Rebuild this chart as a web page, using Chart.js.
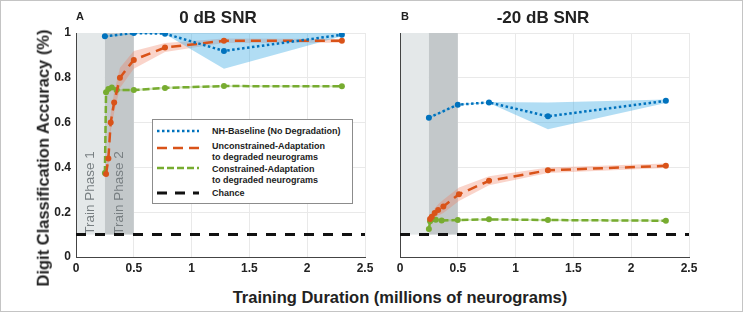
<!DOCTYPE html>
<html>
<head>
<meta charset="utf-8">
<script src="https://cdn.jsdelivr.net/npm/chart.js@4.4.0/dist/chart.umd.min.js"></script>
<style>
  body { margin: 0; background: #fff; }
  #fig { position: relative; width: 743px; height: 312px; font-family: "Liberation Sans", Arial, sans-serif; color: #222; overflow: hidden; }
  #frame { position: absolute; left: 0; top: 0; width: 743px; height: 312px; box-sizing: border-box; border: 1px solid #c4c4c4; pointer-events: none; }
  .pane { position: absolute; top: 0; }
  .t { position: absolute; font-weight: bold; white-space: nowrap; line-height: 1; }
  #legend { position: absolute; left: 152px; top: 119px; width: 201px; height: 85px; box-sizing: border-box; border: 1px solid #8c8c8c; background: #fff; }
  #legend svg { position: absolute; left: 0; top: 0; }
  .lg { position: absolute; left: 59px; font-size: 9px; font-weight: bold; line-height: 11px; white-space: nowrap; color: #222; }
</style>
</head>
<body>
<div id="fig">
  <canvas id="cA" class="pane" width="340" height="280" style="left:40px"></canvas>
  <canvas id="cB" class="pane" width="340" height="280" style="left:370px"></canvas>

  <div class="t" style="left:76px;top:11px;font-size:11px">A</div>
  <div class="t" style="left:401px;top:11px;font-size:11px">B</div>
  <div class="t" style="left:218px;top:9px;font-size:17px;transform:translateX(-50%)">0 dB SNR</div>
  <div class="t" style="left:543px;top:9px;font-size:17px;transform:translateX(-50%)">-20 dB SNR</div>
  <div class="t" style="left:43px;top:158px;font-size:16.5px;transform:translate(-50%,-50%) rotate(-90deg)">Digit Classification Accuracy (%)</div>
  <div class="t" style="left:400px;top:289px;font-size:16.5px;transform:translateX(-50%)">Training Duration (millions of neurograms)</div>

  <div id="legend">
    <svg width="201" height="85">
      <line x1="4" y1="11" x2="46" y2="11" stroke="#0072BD" stroke-width="2.5" stroke-dasharray="2.5 2.5"/>
      <line x1="4" y1="28" x2="46" y2="28" stroke="#D95319" stroke-width="2.5" stroke-dasharray="10 6"/>
      <line x1="4" y1="48" x2="46" y2="48" stroke="#77AC30" stroke-width="2.5" stroke-dasharray="7 3"/>
      <line x1="4" y1="73" x2="46" y2="73" stroke="#111" stroke-width="3" stroke-dasharray="10 8"/>
    </svg>
    <div class="lg" style="top:6px">NH-Baseline (No Degradation)</div>
    <div class="lg" style="top:21px">Unconstrained-Adaptation<br>to degraded neurograms</div>
    <div class="lg" style="top:44px">Constrained-Adaptation<br>to degraded neurograms</div>
    <div class="lg" style="top:68px">Chance</div>
  </div>
  <div id="frame"></div>
</div>

<script>
// axes
const tickX = [0, 0.5, 1, 1.5, 2, 2.5];
const tickY = [0, 0.2, 0.4, 0.6, 0.8, 1];
const chance = 0.1;
const phases = [[0, 0.25], [0.25, 0.5]];
const phaseNames = ["Train Phase 1", "Train Phase 2"];

// NH baseline (both panels share x)
const baseX = [0.25, 0.5, 0.77, 1.28, 2.3];
const base0 = [0.985, 1.0, 0.997, 0.92, 0.992];
const base0Hi = [0.99, 1.0, 1.0, 1.0, 1.0];
const base0Lo = [0.98, 0.995, 0.995, 0.84, 0.985];
const base20 = [0.622, 0.68, 0.69, 0.628, 0.697];
const base20Hi = [0.625, 0.683, 0.692, 0.69, 0.703];
const base20Lo = [0.618, 0.677, 0.688, 0.57, 0.688];

// 0 dB SNR
const uncX0 = [0.26, 0.28, 0.30, 0.33, 0.38, 0.5, 0.77, 1.28, 2.3];
const unc0 = [0.37, 0.44, 0.60, 0.69, 0.80, 0.88, 0.935, 0.965, 0.965];
const unc0Err = [0.02, 0.03, 0.04, 0.045, 0.045, 0.04, 0.02, 0.01, 0.008];
const conX0 = [0.25, 0.26, 0.28, 0.31, 0.35, 0.5, 0.77, 1.28, 2.3];
const con0 = [0.375, 0.735, 0.75, 0.757, 0.745, 0.745, 0.755, 0.763, 0.762];
const con0Err = [0.01, 0.01, 0.008, 0.006, 0.005, 0.005, 0.005, 0.004, 0.004];

// -20 dB SNR
const uncX20 = [0.26, 0.275, 0.30, 0.33, 0.375, 0.51, 0.77, 1.28, 2.3];
const unc20 = [0.17, 0.18, 0.196, 0.21, 0.226, 0.28, 0.34, 0.387, 0.407];
const unc20Err = [0.01, 0.015, 0.02, 0.025, 0.03, 0.03, 0.02, 0.012, 0.01];
const conX20 = [0.25, 0.26, 0.28, 0.31, 0.36, 0.5, 0.77, 1.28, 2.3];
const con20 = [0.125, 0.16, 0.168, 0.166, 0.163, 0.165, 0.168, 0.165, 0.162];
const con20Err = [0.006, 0.006, 0.005, 0.005, 0.004, 0.004, 0.004, 0.004, 0.004];

const BLUE = "#0072BD", ORANGE = "#D95319", GREEN = "#77AC30";
const FONT = "'Liberation Sans', Arial, sans-serif";

function pts(xs, ys) {
  return xs.map((x, i) => ({x: x, y: ys[i]}));
}

function band(xs, hi, lo, color) {
  return [
    {data: pts(xs, hi), borderWidth: 0, pointRadius: 0, fill: false, order: 10},
    {data: pts(xs, lo), borderWidth: 0, pointRadius: 0, fill: "-1", backgroundColor: color, order: 10},
  ];
}

function errBand(xs, ys, err, color) {
  return band(xs, ys.map((y, i) => y + err[i]), ys.map((y, i) => y - err[i]), color);
}

function line(xs, ys, color, dash) {
  return {
    data: pts(xs, ys), borderColor: color, backgroundColor: color, borderWidth: 2.5,
    borderDash: dash, pointRadius: 3, pointBorderWidth: 0, pointBackgroundColor: color,
    fill: false, tension: 0, order: 1,
  };
}

const phasePlugin = {
  id: "phases",
  beforeDatasetsDraw(chart, args, opts) {
    const ctx = chart.ctx, x = chart.scales.x, y = chart.scales.y;
    const top = y.getPixelForValue(1), bot = y.getPixelForValue(chance);
    const colors = ["#e4e8e9", "#c3c8ca"];
    ctx.save();
    phases.forEach((p, i) => {
      const a = x.getPixelForValue(p[0]) + (i === 0 ? 1 : 0);
      const b = x.getPixelForValue(p[1]);
      ctx.fillStyle = colors[i];
      ctx.fillRect(a, top, b - a, bot - top);
    });
    if (opts.labels) {
      ctx.fillStyle = "#787f82";
      ctx.font = "13.5px " + FONT;
      ctx.textAlign = "center";
      ctx.textBaseline = "middle";
      phases.forEach((p, i) => {
        const cx = x.getPixelForValue((p[0] + p[1]) / 2);
        ctx.save();
        ctx.translate(cx, 193);
        ctx.rotate(-Math.PI / 2);
        ctx.fillText(phaseNames[i], 0, 0);
        ctx.restore();
      });
    }
    ctx.restore();
  }
};

function makeChart(id, series, showY, padRight) {
  const d = [];
  d.push(...band(baseX, series.bHi, series.bLo, "rgba(70,175,228,0.42)"));
  d.push(...errBand(series.uX, series.u, series.uErr, "rgba(238,120,90,0.32)"));
  d.push(...errBand(series.cX, series.c, series.cErr, "rgba(119,172,48,0.3)"));
  d.push(line(baseX, series.b, BLUE, [2.5, 2.5]));
  d.push(line(series.uX, series.u, ORANGE, [10, 6]));
  d.push(line(series.cX, series.c, GREEN, [7, 3]));
  d.push({data: [{x: 0, y: chance}, {x: 2.5, y: chance}], borderColor: "#111", borderWidth: 3,
          borderDash: [10, 9], pointRadius: 0, fill: false, order: 2});

  const tickFont = {family: FONT, size: 12, weight: "bold"};
  return new Chart(document.getElementById(id), {
    type: "line",
    data: {datasets: d},
    plugins: [phasePlugin],
    options: {
      responsive: false,
      animation: false,
      layout: {padding: {left: 0, top: 33, right: padRight, bottom: 0}},
      plugins: {legend: {display: false}, tooltip: {enabled: false}, phases: {labels: showY}},
      scales: {
        x: {
          type: "linear", min: 0, max: 2.5,
          afterBuildTicks: s => { s.ticks = tickX.map(v => ({value: v})); },
          afterFit: s => { s.height = 23; },
          grid: {color: "#e9e9e9", drawTicks: false},
          border: {color: "#444", width: 1},
          ticks: {font: tickFont, color: "#222", padding: 4, maxRotation: 0, callback: v => String(v)},
        },
        y: {
          type: "linear", min: 0, max: 1,
          afterBuildTicks: s => { s.ticks = tickY.map(v => ({value: v})); },
          afterFit: s => { s.width = showY ? 36 : 30; },
          grid: {color: "#e9e9e9", drawTicks: false},
          border: {color: "#444", width: 1},
          ticks: {font: tickFont, color: "#222", padding: 5, callback: v => showY ? String(+v.toFixed(1)) : ""},
        },
      },
    },
  });
}

makeChart("cA", {b: base0, bHi: base0Hi, bLo: base0Lo, uX: uncX0, u: unc0, uErr: unc0Err,
                 cX: conX0, c: con0, cErr: con0Err}, true, 15);
makeChart("cB", {b: base20, bHi: base20Hi, bLo: base20Lo, uX: uncX20, u: unc20, uErr: unc20Err,
                 cX: conX20, c: con20, cErr: con20Err}, false, 21);
</script>
</body>
</html>
